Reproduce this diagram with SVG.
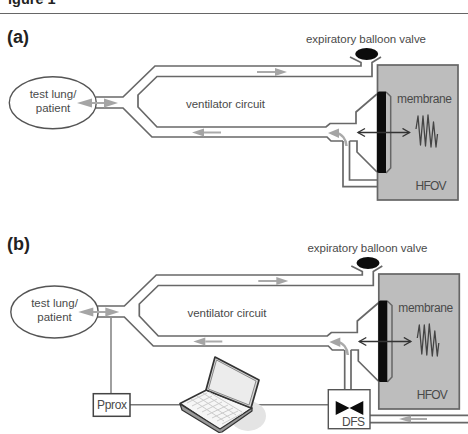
<svg xmlns="http://www.w3.org/2000/svg" width="468" height="434" viewBox="0 0 468 434">
<style>
  text { font-family: "Liberation Sans", Arial, sans-serif; fill: #4a4a4a; font-size: 11.5px; }
  .head { font-weight: bold; fill: #222; font-size: 18px; }
  .tube { fill: none; stroke: #686868; stroke-width: 1.7; stroke-linejoin: miter; }
  .wire { fill: none; stroke: #777; stroke-width: 1.4; }
  .flow { fill: none; stroke: #aaa; stroke-width: 2; }
  .flowhead { fill: #a5a5a5; stroke: none; }
  .box { fill: #bdbdbd; stroke: #666; stroke-width: 1.7; }
  .lung { fill: #fff; stroke: #555; stroke-width: 1.4; }
  .dark { fill: #0c0c0c; stroke: none; }
</style>
<defs>
  <marker id="tip" markerWidth="11" markerHeight="11" refX="8" refY="5" orient="auto-start-reverse" markerUnits="userSpaceOnUse">
    <path d="M1 1L8 5L1 9" fill="none" stroke="#333" stroke-width="1.4"/>
  </marker>
  <!-- Ventilator circuit tubing shared by both set-ups, without the lower return limb -->
  <g id="circuit">
    <path class="tube" d="M96 97H123L155 66H361V62.5L350 57"/>
    <path class="tube" d="M381 57L372 62.5V76.500H157L138 95V107L157 127H326L330 123.500H356V112L377 94"/>
    <path class="tube" d="M96 108H123L152 137H327L331 141H343"/>
    <path class="tube" d="M377 172L357 152V141H349.500"/>
  </g>
  <g id="flows">
    <path class="flow" d="M257 72H277"/><path class="flowhead" d="M287 72L275 68V76Z"/>
    <path class="flow" d="M204 132.500H221"/><path class="flowhead" d="M192 132.500L204 128.500V136.500Z"/>
    <path class="flow" d="M90 103H106"/><path class="flowhead" d="M77 103L92 98.500V107.500Z"/><path class="flowhead" d="M118 103L104 98.500V107.500Z"/>
    <path class="flow" style="stroke-width:2.500" d="M336 133C342 134 346 139 346.500 146"/><path class="flowhead" d="M328 133L339 128.500L339 138Z"/>
  </g>
  <!-- Oscillator housing with piston membrane and driving waveform -->
  <g id="oscillator">
    <rect class="box" x="377.500" y="65" width="80.500" height="135"/>
    <path d="M386 92L390.700 96.500V168L386 173" fill="none" stroke="#666" stroke-width="1.500"/>
    <path class="dark" d="M379 91.500H386V173H379Q377 173 377 171V94Q377 91.500 379 91.500Z"/>
    <path d="M358 132.500H409.500" fill="none" stroke="#333" stroke-width="1.300" marker-start="url(#tip)" marker-end="url(#tip)"/>
    <path d="M416 129L418 116L420.500 145L423 116L425.500 146L428 115L431 147L433.500 122L436 147L437.500 134" fill="none" stroke="#444" stroke-width="1.300" stroke-linejoin="round"/>
    <text x="397" y="103" textLength="55" style="font-size:12px">membrane</text>
    <text x="415.500" y="190" textLength="31" style="font-size:12px">HFOV</text>
  </g>
  <g id="balloon">
    <ellipse class="dark" cx="366.700" cy="54" rx="11.500" ry="6"/>
  </g>
</defs>

<g id="page-header">
  <text x="8" y="4" font-weight="bold" style="font-size:14.500px;fill:#222">igure 1</text>
  <path d="M0 13.500H468" stroke="#666" stroke-width="1.200"/>
</g>

<!-- Set-up (a) -->
<g id="panel-a">
  <text class="head" x="7" y="43">(a)</text>
  <g id="a-connectors">
    <use href="#circuit"/>
    <path class="tube" d="M343 141V186.700H377"/>
    <path class="tube" d="M349.500 141V180H377"/>
  </g>
  <g id="a-lung">
    <ellipse class="lung" cx="52.800" cy="102.700" rx="43.500" ry="26"/>
    <text x="53" y="98" text-anchor="middle">test lung/</text>
    <text x="53" y="112" text-anchor="middle">patient</text>
  </g>
  <g id="a-hfov"><use href="#oscillator"/></g>
  <g id="a-valve">
    <use href="#balloon"/>
    <text x="306" y="43" textLength="120">expiratory balloon valve</text>
  </g>
  <g id="a-flow"><use href="#flows"/></g>
  <text x="186" y="108" textLength="79">ventilator circuit</text>
</g>

<!-- Set-up (b): same circuit, instrumented with proximal pressure and flow sensing -->
<g id="panel-b">
  <text class="head" x="7" y="250">(b)</text>
  <g id="b-connectors">
    <g transform="translate(1.300 209)"><use href="#circuit"/></g>
    <path class="tube" d="M344.700 350V389.700"/>
    <path class="tube" d="M351 350V389.700"/>
    <path class="tube" d="M370 415.300H468"/>
    <path class="tube" d="M370 422.700H468"/>
    <path class="wire" d="M111 318V393.700"/>
    <path class="wire" d="M130 404.700H182"/>
    <path class="wire" d="M256 404.700H328.300"/>
    <path class="flow" d="M411 419H427"/><path class="flowhead" d="M399 419L411 415.500V422.500Z"/>
  </g>
  <g id="b-lung">
    <ellipse class="lung" cx="54.500" cy="312" rx="43.700" ry="26"/>
    <text x="54.500" y="307" text-anchor="middle">test lung/</text>
    <text x="54.500" y="321" text-anchor="middle">patient</text>
  </g>
  <g id="b-hfov" transform="translate(1.300 209)"><use href="#oscillator"/></g>
  <g id="b-valve">
    <g transform="translate(1.300 209)"><use href="#balloon"/></g>
    <text x="307.500" y="252" textLength="120">expiratory balloon valve</text>
  </g>
  <g id="b-flow" transform="translate(1.300 209)"><use href="#flows"/></g>
  <text x="187.500" y="317" textLength="79">ventilator circuit</text>
  <g id="pprox">
    <rect x="93.300" y="393.700" width="36.700" height="22.600" fill="#fff" stroke="#444" stroke-width="1.500"/>
    <text x="97" y="409" textLength="30" style="font-size:12px">Pprox</text>
  </g>
  <g id="laptop">
    <ellipse cx="248" cy="416" rx="18" ry="15" fill="#e4e4e4"/>
    <path d="M180 403.500L206.500 390L252 408L220 430Z" fill="#f6f6f6" stroke="#333" stroke-width="1.500" stroke-linejoin="round"/>
    <path d="M180 404L182 410L219 432.500L222 432L252 411V408L220 429Z" fill="#999" stroke="#333" stroke-width="1.200" stroke-linejoin="round"/>
    <path d="M206 390L215 357L259 380L251 408Z" fill="#d8d8d8" stroke="#333" stroke-width="1.700" stroke-linejoin="round"/>
    <path d="M208.500 389L216.500 360L256 381L249 405Z" fill="#ececec" stroke="#888" stroke-width="1"/>
    <g fill="none" stroke="#ccc" stroke-width="1">
      <path d="M187 403L207 393M192 406L212 396M197 409L217 399M202 412L222 402M207 415L228 405M212 418L233 408M217 421L238 411M222 424L243 413"/>
      <path d="M191 399L224 421M197 396L230 418M203 393L236 415M209 392L242 412"/>
    </g>
  </g>
  <g id="dfs">
    <rect x="328.300" y="389.700" width="41.700" height="39" fill="#fff" stroke="#555" stroke-width="1.400"/>
    <path class="dark" d="M335.700 401L349.500 408L363.300 401V415L349.500 408L335.700 415Z"/>
    <text x="342" y="426" textLength="23" style="font-size:12px">DFS</text>
  </g>
</g>
</svg>
